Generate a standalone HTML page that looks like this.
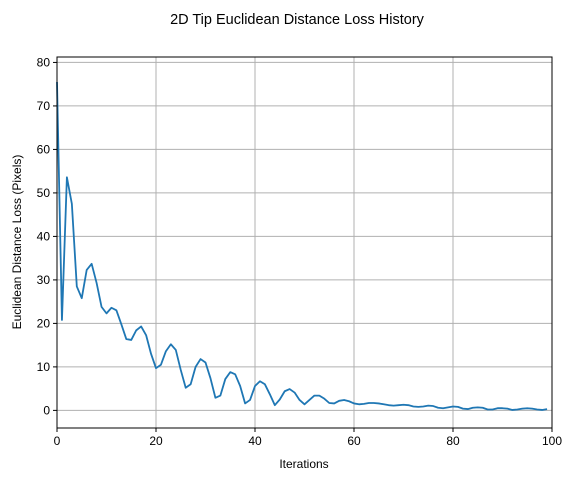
<!DOCTYPE html>
<html><head><meta charset="utf-8"><style>
body{margin:0;background:#fff;}
svg{font-family:"Liberation Sans","DejaVu Sans",sans-serif;}
</style></head><body>
<svg id="c" width="576" height="480" xmlns="http://www.w3.org/2000/svg">
<text x="297" y="24" font-size="14.5" text-anchor="middle">2D Tip Euclidean Distance Loss History</text>
<g id="grid"></g>
<g id="ticks"></g>
<path id="line" fill="none" stroke="#1f77b4" stroke-width="1.8" stroke-linejoin="round"/>
<rect x="57" y="57" width="495" height="371" fill="none" stroke="#000" stroke-width="1"/>
<text x="304" y="468" font-size="12" text-anchor="middle">Iterations</text>
<text transform="translate(21,242) rotate(-90)" font-size="12" text-anchor="middle">Euclidean Distance Loss (Pixels)</text>
</svg>
<script>
const loss=[75.5,20.8,53.6,47.5,28.5,25.8,32.3,33.7,29.3,23.8,22.3,23.6,23.0,19.8,16.4,16.2,18.4,19.3,17.3,13.0,9.7,10.5,13.6,15.2,13.9,9.3,5.2,6.0,10.0,11.8,11.0,7.4,2.9,3.4,7.2,8.8,8.3,5.6,1.6,2.4,5.6,6.7,6.0,3.7,1.2,2.5,4.4,4.9,4.1,2.4,1.4,2.4,3.4,3.4,2.7,1.7,1.6,2.2,2.4,2.1,1.6,1.4,1.5,1.7,1.7,1.6,1.4,1.2,1.1,1.2,1.3,1.2,0.9,0.8,0.9,1.1,1.0,0.6,0.5,0.7,0.9,0.8,0.4,0.3,0.6,0.7,0.6,0.2,0.2,0.5,0.5,0.4,0.1,0.2,0.4,0.5,0.4,0.2,0.1,0.3];
const xTicks=[0,20,40,60,80,100];
const yTicks=[0,10,20,30,40,50,60,70,80];
const X0=57,X1=552,Y0=428,Y1=57,xmin=0,xmax=100,ymin=-4.05,ymax=81.25;
const sx=v=>X0+(v-xmin)/(xmax-xmin)*(X1-X0);
const sy=v=>Y0-(v-ymin)/(ymax-ymin)*(Y0-Y1);
const NS="http://www.w3.org/2000/svg";
const grid=document.getElementById('grid'),ticks=document.getElementById('ticks');
function mk(tag,attrs,parent){const e=document.createElementNS(NS,tag);for(const k in attrs)e.setAttribute(k,attrs[k]);parent.appendChild(e);return e;}
xTicks.forEach(t=>{
 const x=sx(t);
 const g=mk('line',{x1:x,x2:x,y1:Y1,y2:Y0,stroke:'#b0b0b0','stroke-width':1},grid);
 
 
 const tk=mk('line',{x1:x,x2:x,y1:Y0,y2:Y0+4,stroke:'#000'},ticks);
 
 
 const tx=mk('text',{x:x,y:Y0+17,'font-size':12,'text-anchor':'middle'},ticks);
 tx.textContent=t;
 
 
});
yTicks.forEach(t=>{
 const y=sy(t);
 const g=mk('line',{x1:X0,x2:X1,y1:y,y2:y,stroke:'#b0b0b0','stroke-width':1},grid);
 
 
 const tk=mk('line',{x1:X0-4,x2:X0,y1:y,y2:y,stroke:'#000'},ticks);
 
 
 const tx=mk('text',{x:X0-7,y:y+4,'font-size':12,'text-anchor':'end'},ticks);
 tx.textContent=t;
 
 
});
document.getElementById('line').setAttribute('d',loss.map((v,i)=>(i?'L':'M')+sx(i).toFixed(2)+','+sy(v).toFixed(2)).join(''));
</script>
</body></html>
